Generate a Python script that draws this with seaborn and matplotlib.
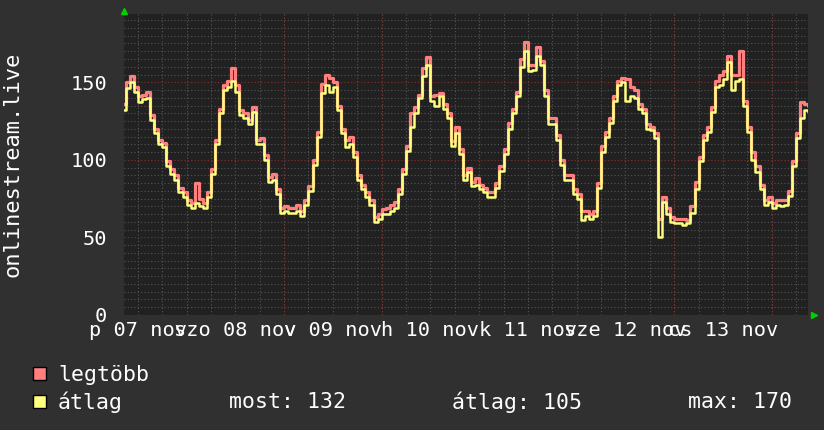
import pandas as pd
import matplotlib.pyplot as plt
import seaborn as sns
from matplotlib.patches import Patch
from matplotlib.ticker import MultipleLocator

# órák 2025-11-07 00:00-tól számolva
hours = list(range(8, 178))

atlag = [132, 146, 150, 144, 137, 139, 140, 126, 117, 110,
         108, 96, 91, 87, 79, 76, 71, 69, 72, 70,
         69, 76, 91, 110, 130, 145, 147, 151, 144, 129,
         127, 123, 131, 110, 110, 100, 86, 87, 78, 66,
         67, 66, 66, 67, 64, 71, 80, 97, 115, 143,
         148, 144, 147, 132, 117, 108, 110, 102, 87, 81,
         76, 71, 60, 62, 65, 65, 67, 69, 78, 91,
         106, 121, 130, 140, 154, 161, 138, 135, 141, 133,
         127, 109, 117, 104, 87, 92, 83, 84, 81, 79,
         76, 76, 82, 93, 104, 120, 130, 141, 160, 170,
         157, 158, 167, 161, 141, 123, 123, 113, 97, 87,
         87, 78, 75, 61, 64, 62, 64, 82, 105, 115,
         124, 138, 148, 150, 138, 141, 140, 133, 130, 120,
         119, 114, 50, 73, 65, 60, 59, 59, 58, 59,
         66, 81, 99, 113, 118, 131, 147, 148, 152, 163,
         145, 151, 152, 135, 118, 100, 92, 81, 71, 73,
         69, 71, 70, 71, 77, 96, 114, 127, 132, 131]

legtobb = [136, 150, 154, 147, 141, 142, 144, 129, 120, 113,
           111, 99, 94, 90, 82, 79, 74, 72, 85, 75,
           72, 79, 94, 113, 133, 148, 151, 159, 148, 132,
           130, 126, 134, 113, 114, 103, 89, 91, 81, 69,
           70, 69, 69, 71, 67, 74, 83, 100, 118, 149,
           155, 153, 150, 135, 120, 113, 115, 105, 90, 84,
           79, 74, 63, 65, 68, 69, 71, 73, 81, 94,
           109, 130, 134, 142, 159, 166, 141, 142, 143, 136,
           130, 112, 121, 107, 90, 95, 86, 88, 84, 82,
           79, 79, 85, 96, 107, 124, 133, 144, 165, 176,
           161, 161, 173, 164, 145, 127, 127, 116, 100, 90,
           90, 81, 78, 67, 67, 65, 67, 85, 109, 118,
           127, 141, 151, 153, 152, 147, 145, 136, 133, 123,
           121, 117, 62, 76, 69, 63, 62, 62, 62, 61,
           70, 86, 102, 116, 121, 134, 151, 155, 157, 167,
           155, 155, 170, 138, 121, 105, 96, 84, 74, 76,
           72, 74, 74, 74, 80, 99, 117, 137, 136, 135]

day_ticks = [12, 36, 60, 84, 108, 132, 156]
day_labels = ['p 07 nov', 'szo 08 nov', 'v 09 nov', 'h 10 nov',
              'k 11 nov', 'sze 12 nov', 'cs 13 nov']
midnights = [24, 48, 72, 96, 120, 144, 168]
y_ticks = [0, 50, 100, 150]

df = pd.DataFrame({
    'ora': hours * 2,
    'ertek': legtobb + atlag,
    'sor': ['legtöbb'] * len(hours) + ['átlag'] * len(hours),
})

sns.set_theme(style='dark')
plt.rcParams['font.family'] = ['DejaVu Sans Mono', 'DejaVu Sans']

fig = plt.figure(figsize=(8.24, 4.30), dpi=100, facecolor='#303030')
ax = fig.add_axes([124 / 824, 1 - 315 / 430, (808.3 - 124) / 824, 301 / 430])
ax.set_facecolor('#212121')

colors = {'legtöbb': '#ff7f7f', 'átlag': '#ffff7f'}
sns.lineplot(data=df, x='ora', y='ertek', hue='sor', palette=colors,
             size='sor', sizes={'legtöbb': 2.3, 'átlag': 1.8},
             drawstyle='steps-post', estimator=None,
             legend=False, ax=ax, zorder=5)

ax.set_xlim(8.6, 177)
ax.set_ylim(0, 194)

# rácsozat
ax.xaxis.remove_overlapping_locs = False
ax.xaxis.set_minor_locator(MultipleLocator(6))
ax.yaxis.set_minor_locator(MultipleLocator(5))
ax.grid(which='minor', color='#555555', linestyle=(0, (1, 2)), linewidth=0.8)
ax.grid(which='major', axis='x', visible=False)
ax.grid(which='major', axis='y', color='#8a3030', linestyle=(0, (1, 2)), linewidth=0.8)
for m in midnights:
    ax.axvline(m, color='#8a3030', linestyle=(0, (1, 2)), linewidth=0.8, zorder=1)

ax.set_xticks(day_ticks)
ax.set_xticklabels(day_labels)
ax.set_yticks(y_ticks)
ax.tick_params(axis='both', which='both', length=0, colors='white', labelsize=14.6)
ax.tick_params(axis='y', pad=12)
ax.tick_params(axis='x', pad=4)
ax.set_xlabel('')
ax.set_ylabel('')
for s in ax.spines.values():
    s.set_visible(False)

# zöld nyilak
ax.plot(0, 1.01, marker='^', color='#00d000', markersize=5, transform=ax.transAxes, clip_on=False)
ax.plot(1.009, 0, marker='>', color='#00d000', markersize=5, transform=ax.transAxes, clip_on=False)

fig.text(12.5 / 824, 1 - 164 / 430, 'onlinestream.live', rotation=90,
         ha='center', va='center', color='white', fontsize=15.8)

handles = [Patch(facecolor=colors['legtöbb'], edgecolor='black', label='legtöbb'),
           Patch(facecolor=colors['átlag'], edgecolor='black', label='átlag')]
fig.legend(handles=handles, loc='upper left', bbox_to_anchor=(33 / 824, 1 - 365 / 430),
           frameon=False, fontsize=15.5, labelcolor='white', borderpad=0, borderaxespad=0,
           handlelength=0.6, handleheight=0.6, handletextpad=0.56, labelspacing=0.3)

stats = ['most: 132', 'átlag: 105', 'max: 170']
stat_x = [229, 452, 688]
for sx, st in zip(stat_x, stats):
    fig.text(sx / 824, 1 - 402 / 430, st, ha='left', va='center', color='white', fontsize=15.5)

plt.savefig('out.png', dpi=100, facecolor=fig.get_facecolor())
